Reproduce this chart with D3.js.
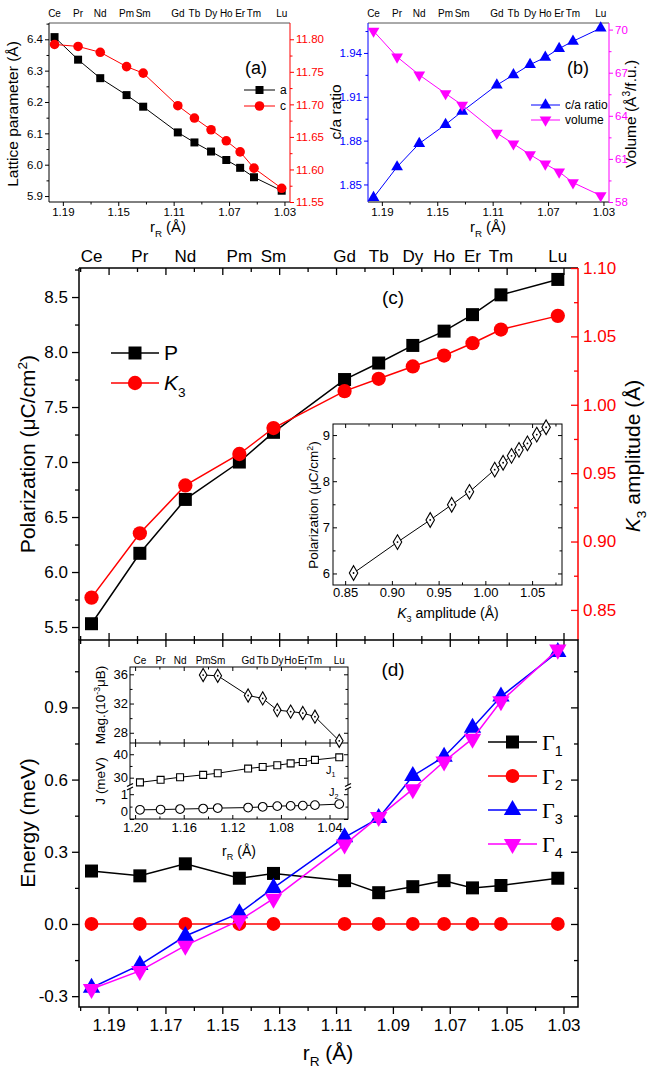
<!DOCTYPE html>
<html>
<head>
<meta charset="utf-8">
<script src="https://cdn.jsdelivr.net/npm/d3@7"></script>
<style>
  body { margin: 0; background: #fff; }
  svg { font-family: "Liberation Sans", Arial, sans-serif; }
</style>
</head>
<body>
<div id="chart"></div>
<script>
// rare-earth ions and their radii (x axis everywhere)
const elements = ['Ce','Pr','Nd','Pm','Sm','Gd','Tb','Dy','Ho','Er','Tm','Lu'];
const rR = [1.196, 1.179, 1.163, 1.144, 1.132, 1.107, 1.095, 1.083, 1.072, 1.062, 1.052, 1.032];

// (a) lattice parameters
const latA = [6.407, 6.335, 6.276, 6.222, 6.185, 6.103, 6.071, 6.042, 6.015, 5.990, 5.960, 5.917];
const latC = [11.792, 11.789, 11.780, 11.758, 11.748, 11.698, 11.679, 11.661, 11.644, 11.627, 11.602, 11.571];
// (b)
const caRatio = [1.841, 1.862, 1.878, 1.891, 1.900, 1.918, 1.925, 1.932, 1.937, 1.943, 1.948, 1.957];
const volume = [69.9, 68.1, 66.85, 65.55, 64.75, 62.8, 62.05, 61.3, 60.65, 60.1, 59.35, 58.45];
// (c)
const polP = [5.53, 6.17, 6.66, 7.00, 7.27, 7.75, 7.90, 8.06, 8.19, 8.34, 8.52, 8.66];
const ampK3 = [0.859, 0.906, 0.941, 0.964, 0.983, 1.010, 1.019, 1.028, 1.036, 1.045, 1.055, 1.065];
const insetP = [6.01, 6.68, 7.16, 7.49, 7.77, 8.25, 8.40, 8.55, 8.68, 8.82, 9.01, 9.17];
// (d)
const gamma1 = [0.22, 0.20, 0.25, 0.19, 0.21, 0.18, 0.13, 0.155, 0.18, 0.15, 0.16, 0.19];
const gamma2 = [0, 0, 0, 0, 0, 0, 0, 0, 0, 0, 0, 0];
const gamma3 = [-0.265, -0.17, -0.05, 0.045, 0.15, 0.36, 0.44, 0.615, 0.695, 0.815, 0.945, 1.13];
const gamma4 = [-0.27, -0.195, -0.09, 0.015, 0.105, 0.33, 0.445, 0.56, 0.675, 0.77, 0.925, 1.14];
const magMoment = [null, null, null, 35.9, 35.8, 33.1, 32.7, 31.1, 30.9, 30.7, 30.2, 26.9];
const J1 = [28.0, 29.1, 30.2, 31.2, 31.9, 33.9, 34.6, 35.3, 36.1, 36.7, 37.6, 38.7];
const J2 = [0.37, 0.38, 0.40, 0.42, 0.44, 0.46, 0.49, 0.52, 0.53, 0.54, 0.56, 0.60];

// tick values
const xTicksSmall = [1.19, 1.15, 1.11, 1.07, 1.03];
const xMinorSmall = [1.17, 1.13, 1.09, 1.05];
const xTicksMain = [1.19, 1.17, 1.15, 1.13, 1.11, 1.09, 1.07, 1.05, 1.03];
const xMinorMain = [1.20, 1.18, 1.16, 1.14, 1.12, 1.10, 1.08, 1.06, 1.04];
const xTicksInsetD = [1.20, 1.16, 1.12, 1.08, 1.04];

const RED = '#ff0000', BLUE = '#0000ff', MAG = '#ff00ff';

const svg = d3.select('#chart').append('svg').attr('width', 648).attr('height', 1070);

// ---------- helpers ----------
function axis(g, kind, scale, pos, majors, minors, o) {
  o = Object.assign({len: 6, mlen: 3, inward: false, fmt: null, color: '#000', fs: 12, pad: 3, sw: 1}, o);
  const fn = {left: d3.axisLeft, right: d3.axisRight, bottom: d3.axisBottom, top: d3.axisTop}[kind];
  const tr = (kind === 'left' || kind === 'right') ? `translate(${pos},0)` : `translate(0,${pos})`;
  const s = o.inward ? -1 : 1;
  const a = fn(scale).tickValues(majors).tickSize(s * o.len).tickPadding(o.pad)
    .tickFormat(o.fmt ? o.fmt : () => '');
  const ga = g.append('g').attr('transform', tr).call(a)
    .attr('font-family', null).attr('font-size', o.fs);
  ga.select('.domain').remove();
  ga.selectAll('line').attr('stroke', o.color).attr('stroke-width', o.sw);
  ga.selectAll('text').attr('fill', o.color);
  if (minors && minors.length) {
    const gm = g.append('g').attr('transform', tr)
      .call(fn(scale).tickValues(minors).tickSize(s * o.mlen).tickFormat(() => ''));
    gm.select('.domain').remove();
    gm.selectAll('line').attr('stroke', o.color).attr('stroke-width', o.sw);
  }
  return ga;
}

// rich text: parts = [[text, kind]], kind: null | 'sub' | 'sup' | 'i' | 'serif'
function rich(g, x, y, parts, o) {
  o = Object.assign({fs: 14, anchor: 'middle', rotate: 0, color: '#000'}, o);
  const t = g.append('text').attr('x', x).attr('y', y).attr('text-anchor', o.anchor)
    .attr('font-size', o.fs).attr('fill', o.color);
  if (o.rotate) t.attr('transform', `rotate(${o.rotate},${x},${y})`);
  let cur = 0;
  parts.forEach(([s, k]) => {
    const sp = t.append('tspan').text(s);
    let target = 0;
    if (k === 'sub') { target = o.fs * 0.3; sp.attr('font-size', o.fs * 0.65); }
    if (k === 'sup') { target = -o.fs * 0.4; sp.attr('font-size', o.fs * 0.65); }
    if (k === 'i') sp.attr('font-style', 'italic');
    if (k === 'serif') sp.attr('font-family', '"Liberation Serif", "Times New Roman", serif');
    if (target !== cur) { sp.attr('dy', target - cur); cur = target; }
  });
  return t;
}

function sym(type, size) {
  return d3.symbol().type(type).size(size)();
}

function series(g, x, y, xs, ys, o) {
  o = Object.assign({color: '#000', sw: 1.5, type: d3.symbolSquare, size: 100, rot: 0, fill: null, dot: false}, o);
  const pts = xs.map((v, i) => [v, ys[i]]).filter(d => d[1] !== null);
  g.append('path').datum(pts)
    .attr('d', d3.line().x(d => x(d[0])).y(d => y(d[1])))
    .attr('fill', 'none').attr('stroke', o.color).attr('stroke-width', o.sw);
  g.selectAll(null).data(pts).enter().append('path')
    .attr('d', sym(o.type, o.size))
    .attr('transform', d => `translate(${x(d[0])},${y(d[1])}) rotate(${o.rot})`)
    .attr('fill', o.fill || o.color)
    .attr('stroke', o.fill ? o.color : 'none').attr('stroke-width', 1.1);
  if (o.dot) {
    g.selectAll(null).data(pts).enter().append('circle')
      .attr('cx', d => x(d[0])).attr('cy', d => y(d[1])).attr('r', 0.9).attr('fill', o.color);
  }
}

function legendItem(g, x1, x2, y, o, label, fs) {
  g.append('line').attr('x1', x1).attr('x2', x2).attr('y1', y).attr('y2', y)
    .attr('stroke', o.color).attr('stroke-width', o.sw || 1.5);
  g.append('path').attr('d', sym(o.type, o.size))
    .attr('transform', `translate(${(x1 + x2) / 2},${y}) rotate(${o.rot || 0})`)
    .attr('fill', o.color);
  rich(g, x2 + 5, y + fs * 0.35, label, {fs: fs, anchor: 'start'});
}

function frame(g, l, t, r, b, sw, fill) {
  g.append('rect').attr('x', l).attr('y', t).attr('width', r - l).attr('height', b - t)
    .attr('fill', fill || 'none').attr('stroke', '#000').attr('stroke-width', sw);
}

function elementLabels(g, x, y, fs) {
  g.selectAll(null).data(elements).enter().append('text')
    .attr('x', (d, i) => x(rR[i])).attr('y', y)
    .attr('text-anchor', 'middle').attr('font-size', fs).text(d => d);
}

const rLabel = [['r', null], ['R', 'sub'], [' (Å)', null]];

// ---------- panel (a) ----------
{
  const P = {l: 49, r: 290, t: 23, b: 202};
  const g = svg.append('g');
  const x = d3.scaleLinear().domain([1.2, 1.026]).range([P.l, P.r]);
  const y = d3.scaleLinear().domain([5.881, 6.452]).range([P.b, P.t]);
  const y2 = d3.scaleLinear().domain([11.55, 11.825]).range([P.b, P.t]);
  g.append('line').attr('x1', P.l).attr('x2', P.r).attr('y1', P.t).attr('y2', P.t).attr('stroke', '#555');
  g.append('line').attr('x1', P.l).attr('x2', P.r).attr('y1', P.b).attr('y2', P.b).attr('stroke', '#000');
  g.append('line').attr('x1', P.l).attr('x2', P.l).attr('y1', P.t).attr('y2', P.b).attr('stroke', '#000');
  g.append('line').attr('x1', P.r).attr('x2', P.r).attr('y1', P.t).attr('y2', P.b).attr('stroke', RED);
  axis(g, 'bottom', x, P.b, xTicksSmall, xMinorSmall, {len: 4, mlen: 2.5, fmt: d3.format('.2f'), fs: 11.5, pad: 2});
  axis(g, 'left', y, P.l, [5.9, 6.0, 6.1, 6.2, 6.3, 6.4], [5.95, 6.05, 6.15, 6.25, 6.35, 6.45], {len: 4, mlen: 2.5, fmt: d3.format('.1f'), fs: 11.5, pad: 2});
  axis(g, 'right', y2, P.r, [11.55, 11.60, 11.65, 11.70, 11.75, 11.80], [11.575, 11.625, 11.675, 11.725, 11.775], {len: 4, mlen: 2.5, fmt: d3.format('.2f'), fs: 11.5, color: RED, pad: 2});
  elementLabels(g, x, 17, 10);
  series(g, x, y, rR, latA, {color: '#000', sw: 1, type: d3.symbolSquare, size: 64});
  series(g, x, y2, rR, latC, {color: RED, sw: 1, type: d3.symbolCircle, size: 72});
  rich(g, 18, 114, [['Lattice parameter (Å)', null]], {fs: 15.5, rotate: -90});
  rich(g, 168, 232, rLabel, {fs: 15});
  rich(g, 256, 74, [['(a)', null]], {fs: 18});
  legendItem(g, 244, 275, 90, {color: '#000', type: d3.symbolSquare, size: 64, sw: 1}, [['a', null]], 12);
  legendItem(g, 244, 275, 106, {color: RED, type: d3.symbolCircle, size: 72, sw: 1}, [['c', null]], 12);
}

// ---------- panel (b) ----------
{
  const P = {l: 368, r: 609, t: 23, b: 202};
  const g = svg.append('g');
  const x = d3.scaleLinear().domain([1.2, 1.026]).range([P.l, P.r]);
  const y = d3.scaleLinear().domain([1.838, 1.9605]).range([P.b, P.t]);
  const y2 = d3.scaleLinear().domain([58, 70.46]).range([P.b, P.t]);
  g.append('line').attr('x1', P.l).attr('x2', P.r).attr('y1', P.t).attr('y2', P.t).attr('stroke', '#555');
  g.append('line').attr('x1', P.l).attr('x2', P.r).attr('y1', P.b).attr('y2', P.b).attr('stroke', '#000');
  g.append('line').attr('x1', P.l).attr('x2', P.l).attr('y1', P.t).attr('y2', P.b).attr('stroke', BLUE);
  g.append('line').attr('x1', P.r).attr('x2', P.r).attr('y1', P.t).attr('y2', P.b).attr('stroke', MAG);
  axis(g, 'bottom', x, P.b, xTicksSmall, xMinorSmall, {len: 4, mlen: 2.5, fmt: d3.format('.2f'), fs: 11.5, pad: 2});
  axis(g, 'left', y, P.l, [1.85, 1.88, 1.91, 1.94], [1.865, 1.895, 1.925, 1.955], {len: 4, mlen: 2.5, fmt: d3.format('.2f'), fs: 11.5, color: BLUE, pad: 2});
  axis(g, 'right', y2, P.r, [58, 61, 64, 67, 70], [59.5, 62.5, 65.5, 68.5], {len: 4, mlen: 2.5, fmt: d => d, fs: 11.5, color: MAG, pad: 2});
  elementLabels(g, x, 17, 10);
  series(g, x, y, rR, caRatio, {color: BLUE, sw: 1, type: d3.symbolTriangle, size: 60});
  series(g, x, y2, rR, volume, {color: MAG, sw: 1, type: d3.symbolTriangle, size: 60, rot: 180});
  rich(g, 341, 112, [['c/a ratio', null]], {fs: 15.5, rotate: -90});
  rich(g, 636, 114, [['Volume (Å', null], ['3', 'sup'], ['/f.u.)', null]], {fs: 15.5, rotate: -90});
  rich(g, 488, 232, rLabel, {fs: 15});
  rich(g, 578, 74, [['(b)', null]], {fs: 18});
  legendItem(g, 531, 560, 105, {color: BLUE, type: d3.symbolTriangle, size: 60, sw: 1}, [['c/a ratio', null]], 12);
  legendItem(g, 531, 560, 120, {color: MAG, type: d3.symbolTriangle, size: 60, sw: 1, rot: 180}, [['volume', null]], 12);
}

// ---------- shared x for (c) and (d) ----------
const xMain = d3.scaleLinear().domain([1.2004, 1.0249]).range([79, 578]);

// ---------- panel (c) ----------
{
  const P = {l: 79, r: 578, t: 268, b: 640};
  const g = svg.append('g');
  const y = d3.scaleLinear().domain([5.382, 8.764]).range([P.b, P.t]);
  const y2 = d3.scaleLinear().domain([0.828, 1.10]).range([P.b, P.t]);
  g.append('line').attr('x1', P.l).attr('x2', P.r).attr('y1', P.t).attr('y2', P.t).attr('stroke', '#000').attr('stroke-width', 1.5);
  g.append('line').attr('x1', P.l).attr('x2', P.l).attr('y1', P.t).attr('y2', P.b).attr('stroke', '#000').attr('stroke-width', 1.5);
  g.append('line').attr('x1', P.r).attr('x2', P.r).attr('y1', P.t).attr('y2', P.b).attr('stroke', RED).attr('stroke-width', 1.5);
  axis(g, 'top', xMain, P.t, xTicksMain, xMinorMain, {len: 7, mlen: 4, inward: true, sw: 1.3});
  axis(g, 'bottom', xMain, P.b, xTicksMain, xMinorMain, {len: 7, mlen: 4, inward: true, sw: 1.3});
  axis(g, 'left', y, P.l, [5.5, 6.0, 6.5, 7.0, 7.5, 8.0, 8.5], [5.75, 6.25, 6.75, 7.25, 7.75, 8.25, 8.75], {len: 7, mlen: 4, fmt: d3.format('.1f'), fs: 17, pad: 4, sw: 1.3});
  axis(g, 'right', y2, P.r, [0.85, 0.90, 0.95, 1.00, 1.05, 1.10], [0.875, 0.925, 0.975, 1.025, 1.075], {len: 7, mlen: 4, inward: true, fmt: d3.format('.2f'), fs: 17, color: RED, pad: 5, sw: 1.3});
  elementLabels(g, xMain, 262, 17);
  series(g, xMain, y, rR, polP, {color: '#000', sw: 1.5, type: d3.symbolSquare, size: 169});
  series(g, xMain, y2, rR, ampK3, {color: RED, sw: 1.5, type: d3.symbolCircle, size: 160});
  rich(g, 35, 454, [['Polarization (μC/cm', null], ['2', 'sup'], [')', null]], {fs: 21, rotate: -90});
  rich(g, 640, 456, [['K', 'i'], ['3', 'sub'], [' amplitude (Å)', null]], {fs: 21, rotate: -90});
  rich(g, 393, 304, [['(c)', null]], {fs: 19});
  legendItem(g, 111, 159, 353, {color: '#000', type: d3.symbolSquare, size: 169}, [['P', null]], 21);
  legendItem(g, 111, 159, 383, {color: RED, type: d3.symbolCircle, size: 160}, [['K', 'i'], ['3', 'sub']], 21);

  // inset: P vs K3
  const I = {l: 333, r: 562, t: 424, b: 585};
  frame(g, I.l, I.t, I.r, I.b, 1, '#fff');
  const xi = d3.scaleLinear().domain([0.837, 1.082]).range([I.l, I.r]);
  const yi = d3.scaleLinear().domain([5.75, 9.24]).range([I.b, I.t]);
  axis(g, 'bottom', xi, I.b, [0.85, 0.90, 0.95, 1.00, 1.05], [0.875, 0.925, 0.975, 1.025, 1.075], {len: 4, mlen: 2.5, inward: true, fmt: d3.format('.2f'), fs: 13, pad: 3});
  axis(g, 'top', xi, I.t, [0.85, 0.90, 0.95, 1.00, 1.05], [0.875, 0.925, 0.975, 1.025, 1.075], {len: 4, mlen: 2.5, inward: true});
  axis(g, 'left', yi, I.l, [6, 7, 8, 9], [6.5, 7.5, 8.5], {len: 4, mlen: 2.5, inward: true, fmt: d => d, fs: 13, pad: 3});
  axis(g, 'right', yi, I.r, [6, 7, 8, 9], [6.5, 7.5, 8.5], {len: 4, mlen: 2.5, inward: true});
  series(g, xi, yi, ampK3, insetP, {color: '#000', sw: 1, type: d3.symbolDiamond, size: 62, fill: '#fff', dot: true});
  rich(g, 318, 505, [['Polarization (μC/cm', null], ['2', 'sup'], [')', null]], {fs: 13.5, rotate: -90});
  rich(g, 448, 618, [['K', 'i'], ['3', 'sub'], [' amplitude (Å)', null]], {fs: 14});
}

// ---------- panel (d) ----------
{
  const P = {l: 79, r: 578, t: 640, b: 1007};
  const g = svg.append('g');
  const y = d3.scaleLinear().domain([-0.345, 1.18]).range([P.b, P.t]);
  frame(g, P.l, P.t, P.r, P.b, 1.5);
  axis(g, 'top', xMain, P.t, xTicksMain, xMinorMain, {len: 7, mlen: 4, inward: true, sw: 1.3});
  axis(g, 'bottom', xMain, P.b, xTicksMain, xMinorMain, {len: 7, mlen: 4, fmt: d3.format('.2f'), fs: 17, pad: 5, sw: 1.3});
  axis(g, 'left', y, P.l, [-0.3, 0.0, 0.3, 0.6, 0.9], [-0.15, 0.15, 0.45, 0.75, 1.05], {len: 7, mlen: 4, fmt: d => d.toFixed(1), fs: 17, pad: 4, sw: 1.3});
  axis(g, 'right', y, P.r, [-0.3, 0.0, 0.3, 0.6, 0.9], [-0.15, 0.15, 0.45, 0.75, 1.05], {len: 7, mlen: 4, inward: true, sw: 1.3});

  // inset: magnetic moment and exchange J
  const I = {l: 130, r: 348, t: 667, m: 743, b: 819};
  frame(g, I.l, I.t, I.r, I.b, 1, '#fff');
  g.append('line').attr('x1', I.l).attr('x2', I.r).attr('y1', I.m).attr('y2', I.m).attr('stroke', '#000');
  const xd = d3.scaleLinear().domain([1.2042, 1.0248]).range([I.l, I.r]);
  const yMag = d3.scaleLinear().domain([26.6, 37]).range([I.m, I.t]);
  const yHi = d3.scaleLinear().domain([26.45, 44.8]).range([786, I.m]);
  const yLo = d3.scaleLinear().domain([0, 1.25]).range([I.b, 788]);
  const xMinD = [1.18, 1.14, 1.10, 1.06];
  axis(g, 'top', xd, I.t, xTicksInsetD, xMinD, {len: 4, mlen: 2.5, inward: true});
  axis(g, 'bottom', xd, I.m, xTicksInsetD, xMinD, {len: 4, mlen: 2.5, inward: true});
  axis(g, 'top', xd, I.m, xTicksInsetD, xMinD, {len: 4, mlen: 2.5, inward: true});
  axis(g, 'bottom', xd, I.b, xTicksInsetD, xMinD, {len: 4, mlen: 2.5, inward: true, fmt: d3.format('.2f'), fs: 13, pad: 4});
  axis(g, 'left', yMag, I.l, [28, 32, 36], [30, 34], {len: 4, mlen: 2.5, inward: true, fmt: d => d, fs: 13, pad: 2});
  axis(g, 'right', yMag, I.r, [28, 32, 36], [30, 34], {len: 4, mlen: 2.5, inward: true});
  axis(g, 'left', yHi, I.l, [30, 40], [35], {len: 4, mlen: 2.5, inward: true, fmt: d => d, fs: 13, pad: 2});
  axis(g, 'right', yHi, I.r, [30, 40], [35], {len: 4, mlen: 2.5, inward: true});
  const lo = axis(g, 'left', yLo, I.l, [0, 1], [0.5], {len: 4, mlen: 2.5, inward: true, fmt: d => d, fs: 13, pad: 2});
  lo.selectAll('text').attr('dy', (d) => d === 0 ? '-0.25em' : '0.32em');
  axis(g, 'right', yLo, I.r, [0, 1], [0.5], {len: 4, mlen: 2.5, inward: true});
  // axis break marks
  [I.l, I.r].forEach(bx => {
    g.append('rect').attr('x', bx - 3).attr('y', 785).attr('width', 6).attr('height', 4).attr('fill', '#fff');
    g.append('line').attr('x1', bx - 3).attr('x2', bx + 3).attr('y1', 786.5).attr('y2', 783.5).attr('stroke', '#000').attr('stroke-width', 1.3);
    g.append('line').attr('x1', bx - 3).attr('x2', bx + 3).attr('y1', 790).attr('y2', 787).attr('stroke', '#000').attr('stroke-width', 1.3);
  });
  g.selectAll(null).data(elements).enter().append('text')
    .attr('x', (d, i) => xd(rR[i])).attr('y', 664)
    .attr('text-anchor', 'middle').attr('font-size', 10).text(d => d);
  series(g, xd, yMag, rR, magMoment, {color: '#000', sw: 1, type: d3.symbolDiamond, size: 50, fill: '#fff', dot: true});
  series(g, xd, yHi, rR, J1, {color: '#000', sw: 1, type: d3.symbolSquare, size: 48, fill: '#fff'});
  series(g, xd, yLo, rR, J2, {color: '#000', sw: 1, type: d3.symbolCircle, size: 60, fill: '#fff'});
  rich(g, 326, 774, [['J', null], ['1', 'sub']], {fs: 11, anchor: 'start'});
  rich(g, 329, 796, [['J', null], ['2', 'sub']], {fs: 11, anchor: 'start'});
  rich(g, 105, 705, [['Mag.(10', null], ['-3', 'sup'], ['μB)', null]], {fs: 13.5, rotate: -90});
  rich(g, 105, 781, [['J (meV)', null]], {fs: 13.5, rotate: -90});
  rich(g, 239, 856, rLabel, {fs: 14});

  // main series
  series(g, xMain, y, rR, gamma1, {color: '#000', sw: 1.5, type: d3.symbolSquare, size: 169});
  series(g, xMain, y, rR, gamma2, {color: RED, sw: 1.5, type: d3.symbolCircle, size: 150});
  series(g, xMain, y, rR, gamma3, {color: BLUE, sw: 1.5, type: d3.symbolTriangle, size: 130});
  series(g, xMain, y, rR, gamma4, {color: MAG, sw: 1.5, type: d3.symbolTriangle, size: 130, rot: 180});

  rich(g, 393, 676, [['(d)', null]], {fs: 19});
  legendItem(g, 488, 537, 742, {color: '#000', type: d3.symbolSquare, size: 169}, [['Γ', 'serif'], ['1', 'sub']], 22);
  legendItem(g, 488, 537, 776, {color: RED, type: d3.symbolCircle, size: 150}, [['Γ', 'serif'], ['2', 'sub']], 22);
  legendItem(g, 488, 537, 810, {color: BLUE, type: d3.symbolTriangle, size: 130}, [['Γ', 'serif'], ['3', 'sub']], 22);
  legendItem(g, 488, 537, 844, {color: MAG, type: d3.symbolTriangle, size: 130, rot: 180}, [['Γ', 'serif'], ['4', 'sub']], 22);

  rich(g, 35, 823, [['Energy (meV)', null]], {fs: 21, rotate: -90});
  rich(g, 328, 1060, rLabel, {fs: 21});
}
</script>
</body>
</html>
